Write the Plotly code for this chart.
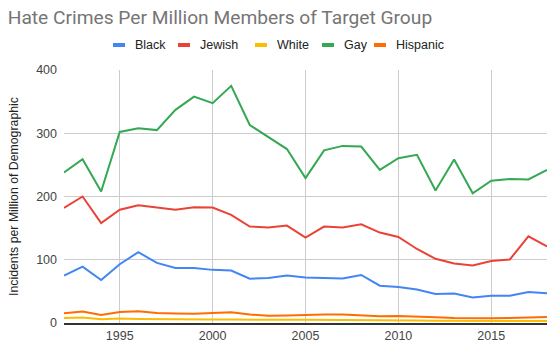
import plotly.graph_objects as go

years = list(range(1992, 2019))

black = [75, 89, 68, 93, 112, 95, 87, 87, 84, 83, 70, 71, 75, 72, 71, 70.5, 76,
         59, 57, 53, 46, 46.5, 40.5, 43, 43, 49, 47]
jewish = [182, 200, 158, 179, 186, 182, 179, 183, 182.5, 171, 152.5, 151, 154, 135, 152.5, 151, 156,
          143, 136, 117, 101.5, 94, 91, 98, 100.5, 137, 121]
white = [8, 8.5, 6, 7, 6.5, 6, 5.5, 5.5, 5.5, 5.5, 5, 5, 5, 5, 5, 5, 5,
         4.5, 4, 4, 3.5, 3.5, 3, 3, 3, 3, 3]
gay = [238, 259, 208, 302, 308, 305, 337, 358, 347.5, 375, 313, 294, 275, 229, 273, 280, 279,
       242, 260.5, 266, 209.5, 258.5, 205, 225, 227.5, 227, 242]
hispanic = [15.5, 18, 12.5, 17.5, 18.5, 16, 15, 14.5, 16, 17, 13.5, 11.5, 12, 13, 13.5, 13.5, 12.5,
            10.5, 11, 9.5, 9, 8, 7.5, 7.5, 8, 9, 9.5]

names = ["Black", "Jewish", "White", "Gay", "Hispanic"]
colors = ["#4285F4", "#EA4335", "#FBBC04", "#34A853", "#FF6D01"]
values = [black, jewish, white, gay, hispanic]

x_ticks = [1995, 2000, 2005, 2010, 2015]
y_ticks = [0, 100, 200, 300, 400]

W, H = 550, 353
ML, MR, MT, MB = 64, 3, 70, 30

fig = go.Figure()
for name, vals, col in zip(names, values, colors):
    fig.add_trace(go.Scatter(x=years, y=vals, mode="lines", name=name,
                             line=dict(color=col, width=2), showlegend=False))

# custom legend (icon + label), laid out like the original chart
pw = W - ML - MR
ph = H - MT - MB
legend_icon_px = [113, 178, 255, 322, 374]
leg_y_px = 45
def px_to_paper_x(px):
    return (px - ML) / pw
def px_to_paper_y(py):
    return (H - MB - py) / ph
for name, col, ix in zip(names, colors, legend_icon_px):
    fig.add_shape(type="line", xref="paper", yref="paper",
                  x0=px_to_paper_x(ix), x1=px_to_paper_x(ix + 12),
                  y0=px_to_paper_y(leg_y_px), y1=px_to_paper_y(leg_y_px),
                  line=dict(color=col, width=4))
    fig.add_annotation(xref="paper", yref="paper", x=px_to_paper_x(ix + 20),
                       y=px_to_paper_y(leg_y_px), xanchor="left", yanchor="middle",
                       text=name, showarrow=False,
                       font=dict(family="Liberation Sans", size=12.5, color="#222222"))

fig.update_layout(
    width=W, height=H,
    margin=dict(l=ML, r=MR, t=MT, b=MB),
    paper_bgcolor="white", plot_bgcolor="white",
    showlegend=False,
    title=dict(text="Hate Crimes Per Million Members of Target Group",
               x=0.014, xanchor="left", y=0.952, yanchor="middle",
               font=dict(family="Roboto", size=19.2, color="#757575")),
    font=dict(family="Liberation Sans", size=12.5, color="#444444"),
)

fig.update_xaxes(range=[1992, 2018], tickvals=x_ticks, ticktext=[str(v) for v in x_ticks],
                 showgrid=True, gridcolor="#cccccc", gridwidth=1,
                 showline=True, linecolor="#333333", linewidth=1.5,
                 zeroline=False, ticks="", tickfont=dict(size=12.5, color="#444444"))
fig.update_yaxes(range=[0, 400], tickvals=y_ticks, ticktext=[str(v) for v in y_ticks],
                 showgrid=True, gridcolor="#cccccc", gridwidth=1,
                 zeroline=False, ticks="", ticklabelstandoff=6,
                 tickfont=dict(size=12.5, color="#444444"),
                 title=dict(text="Incidents per Million of Demographic", standoff=14,
                            font=dict(size=12.3, color="#222222")))

fig.write_html("out.html")
